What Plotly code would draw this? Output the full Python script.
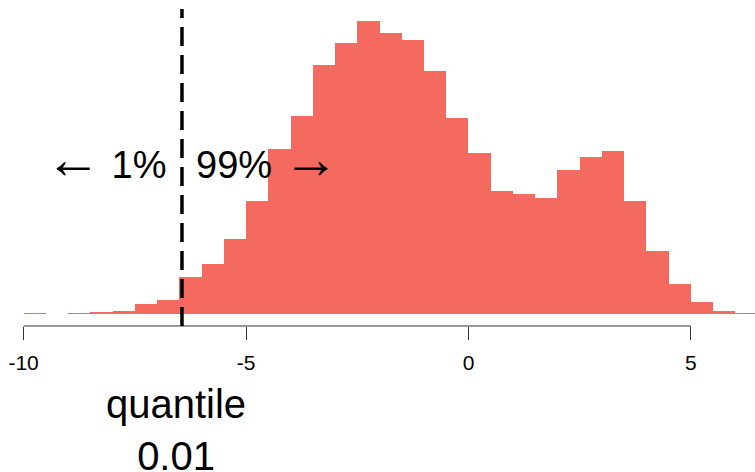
import plotly.graph_objects as go

# Histogram bins (left edges, width 0.5) and counts
bin_left = [-10.0, -9.5, -9.0, -8.5, -8.0, -7.5, -7.0, -6.5, -6.0, -5.5, -5.0,
            -4.5, -4.0, -3.5, -3.0, -2.5, -2.0, -1.5, -1.0, -0.5, 0.0, 0.5,
            1.0, 1.5, 2.0, 2.5, 3.0, 3.5, 4.0, 4.5, 5.0, 5.5, 6.0]
counts = [2, 0, 2, 4, 10, 30, 42, 111, 149, 225, 339,
          495, 595, 747, 814, 880, 842, 821, 730, 587, 483, 369,
          359, 347, 432, 471, 490, 339, 189, 91, 37, 9, 3]
bin_width = 0.5
quantile_01 = -6.44
tick_vals = [-10, -5, 0, 5]
tick_text = ["-10", "-5", "0", "5"]

FONT = "Liberation Sans, Arial, Helvetica, sans-serif"
BAR_COLOR = "#F56A5F"

centers = [b + bin_width / 2 for b in bin_left]

fig = go.Figure()
fig.add_trace(go.Bar(
    x=centers, y=counts, width=[bin_width] * len(counts),
    marker=dict(color=BAR_COLOR, line=dict(width=0)),
    hoverinfo="skip", showlegend=False,
))

fig.add_shape(type="line", xref="x", yref="paper",
              x0=tick_vals[0], x1=tick_vals[-1], y0=0, y1=0,
              line=dict(color="#333333", width=1))

fig.add_shape(type="line", xref="x", yref="y",
              x0=quantile_01, x1=quantile_01, y0=-36, y1=915,
              line=dict(color="black", width=3.5, dash="19px,9px"))

larrow = '<span style="font-size:56px">←</span>'
rarrow = '<span style="font-size:56px">→</span>'

fig.add_annotation(x=quantile_01 - 0.31, y=468, xref="x", yref="y",
                   text=larrow + " 1%", showarrow=False, xanchor="right", yanchor="middle",
                   font=dict(family=FONT, size=38, color="black"))
fig.add_annotation(x=quantile_01 + 0.26, y=468, xref="x", yref="y",
                   text="99% " + rarrow, showarrow=False, xanchor="left", yanchor="middle",
                   font=dict(family=FONT, size=38, color="black"))
fig.add_annotation(x=quantile_01 - 0.13, y=-0.318, xref="x", yref="paper",
                   text="quantile<br>" + "0.01", showarrow=False,
                   xanchor="center", yanchor="middle", align="center",
                   font=dict(family=FONT, size=40, color="black"))

fig.update_layout(
    width=755, height=472,
    margin=dict(l=0, r=0, t=0, b=146, pad=0, autoexpand=False),
    paper_bgcolor="white", plot_bgcolor="white",
    bargap=0,
    xaxis=dict(range=[-10.53, 6.44], tickmode="array", tickvals=tick_vals,
               ticktext=tick_text, ticks="outside", ticklen=13, tickwidth=1,
               tickcolor="#333333", showgrid=False, zeroline=False, showline=False,
               automargin=False, ticklabelstandoff=5,
               tickfont=dict(family=FONT, size=21, color="black")),
    yaxis=dict(range=[-36, 942], visible=False, showgrid=False, zeroline=False,
               automargin=False),
)

fig.write_html("out.html", config={"displayModeBar": False},
               post_script="document.body.style.margin='0';document.body.style.overflow='hidden';")
